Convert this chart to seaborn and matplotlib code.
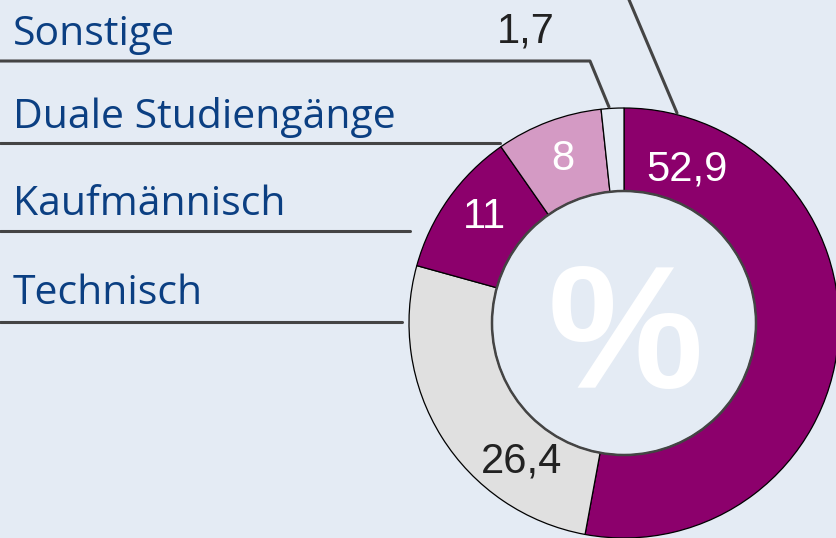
import numpy as np
import matplotlib.pyplot as plt
from matplotlib.patches import Circle
import seaborn as sns

# data: share in percent, clockwise from 12 o'clock
categories = ["Sonstige (oben)", "Technisch", "Kaufmännisch", "Duale Studiengänge", "Sonstige"]
shares = [52.9, 26.4, 11, 8, 1.7]
value_labels = ["52,9", "26,4", "11", "8", "1,7"]
legend_names = ["Sonstige", "Duale Studiengänge", "Kaufmännisch", "Technisch"]

BG = "#e4ebf4"
PURPLE = "#8c006c"
colors = [PURPLE, "#e0e0e0", PURPLE, "#d49ac4", BG]
label_colors = ["white", "#222222", "white", "white", "#222222"]

sns.set_theme(style="white")
plt.rcParams["font.family"] = ["Liberation Sans", "DejaVu Sans"]

W, H = 837, 538
fig = plt.figure(figsize=(W / 100, H / 100), dpi=100, facecolor=BG)
ax = fig.add_axes([0, 0, 1, 1])
ax.set_facecolor(BG)

cx, cy = 624, 323
R, r = 215, 132

# pie draws counterclockwise in data coords; with inverted y it looks clockwise
wedges, _ = ax.pie(shares, colors=colors, startangle=-90, counterclock=True,
                   radius=R, center=(cx, cy), frame=True,
                   wedgeprops=dict(width=R - r, edgecolor="black", linewidth=0.9))
ax.set_xlim(0, W)
ax.set_ylim(H, 0)
ax.axis("off")
ax.add_patch(Circle((cx, cy), r, fill=False, edgecolor="#444444", lw=1.8, zorder=5))

# value labels (placed by hand like the original)
label_pos = [(687, 170), (522, 462), (484, 217), (563, 159), (526, 31)]
for (x, y), txt, c in zip(label_pos, value_labels, label_colors):
    ax.text(x, y, txt, color=c, fontsize=30, ha="center", va="center")

ax.text(cx + 1, cy + 20, "%", color="white", fontsize=126, fontweight="bold",
        ha="center", va="center", zorder=6)

# category names with leader lines
name_y = [45, 128, 215, 304]
leaders = [
    [(0, 61), (590, 61), (609, 107)],
    [(0, 143), (500, 143)],
    [(0, 231), (410, 231)],
    [(0, 322), (402, 322)],
]
for name, y, pts in zip(legend_names, name_y, leaders):
    ax.text(13, y, name, color="#0b3f82", fontsize=29.5, family="Open Sans",
            ha="left", va="baseline")
    xs, ys = zip(*pts)
    ax.plot(xs, ys, color="#444444", lw=2.2, solid_capstyle="round", zorder=4)

# leader for the top category (its name sits above the visible area)
ax.plot([627, 677], [-5, 113], color="#444444", lw=2.2, zorder=4)

fig.savefig("out.png", dpi=100, facecolor=BG)
